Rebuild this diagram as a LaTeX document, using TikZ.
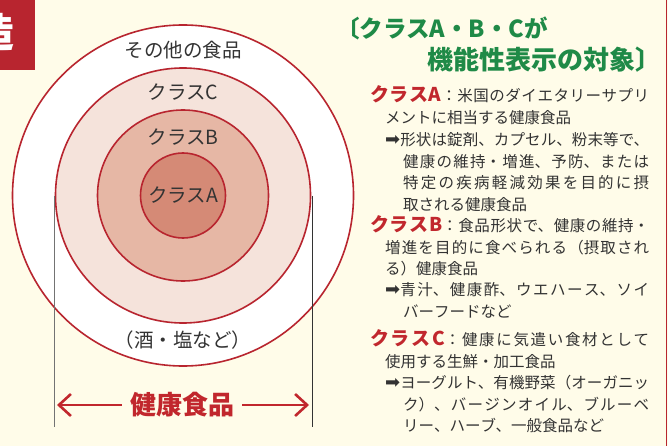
\documentclass[tikz,border=0pt]{standalone}
\usepackage{fontspec}
\newfontfamily\jp{Noto Sans CJK JP}
\newfontfamily\symfont{DejaVu Sans}
\usetikzlibrary{arrows.meta}

\definecolor{paper}{HTML}{FFFCE9}
\definecolor{ringred}{HTML}{B8252F}
\definecolor{labelred}{HTML}{C1272D}
\definecolor{ringC}{HTML}{F5E3DB}
\definecolor{ringB}{HTML}{E6B7A5}
\definecolor{ringA}{HTML}{D58A76}
\definecolor{titlegreen}{HTML}{1F8A47}
\definecolor{ink}{HTML}{333333}

% japanese line breaking: stretch between characters, break only where asked
\XeTeXlinebreaklocale "ja"
\XeTeXlinebreakskip=0pt plus 5pt
\XeTeXlinebreakpenalty=10000

\newcommand{\clslabel}[1]{{\color{labelred}\bfseries\fontsize{19}{21}\selectfont #1}}
\newcommand{\pointer}{{\symfont\fontsize{18}{15}\selectfont ➡}}

\begin{document}
\begin{tikzpicture}[x=1pt,y=-1pt,
  ring/.style={circle,draw=ringred,line width=1.6pt,inner sep=0pt},
  ringtext/.style={font=\jp\fontsize{19.5}{22}\selectfont,text=ink,inner sep=0pt},
  titletext/.style={font=\jp\bfseries\fontsize{#1}{26}\selectfont,text=titlegreen,inner sep=0pt},
  para/.style={anchor=base west,inner sep=0pt,text width=#1,align=justify,text=ink,font=\jp\fontsize{15.5}{21.7}\selectfont},
  guide/.style={line width=0.8pt},
  spantext/.style={font=\jp\bfseries\fontsize{26}{28}\selectfont,text=labelred,inner xsep=8pt,inner ysep=0pt},
  spanarrow/.style={draw=labelred,line width=2.6pt,-{Straight Barb[length=12pt,width=22pt]}}]
	\useasboundingbox (0,0) rectangle (668,446);
	\fill[paper] (0,0) rectangle (668,446);
	\draw[ringred,line width=1.5pt] (666.5,0) -- (666.5,446);
	% heading tab, cut by the page edge
	\fill[ringred] (0,0) rectangle (35,70);
	\node[font=\jp\bfseries\fontsize{40}{40}\selectfont,text=white,inner sep=0pt] (tab) at (-5,32) {造};

	% rings
	\node[ring,fill=white,minimum size=341pt] (other) at (183,195.5) {};
	\node[ring,fill=ringC,minimum size=255pt] (clsC) at (183,195.5) {};
	\node[ring,fill=ringB,minimum size=171pt] (clsB) at (183,195.5) {};
	\node[ring,fill=ringA,minimum size=85pt] (clsA) at (183,195.5) {};
	\node[ringtext] (otherlbl) at (183,50) {その他の食品};
	\node[ringtext] (clsClbl) at (183,92) {クラスC};
	\node[ringtext] (clsBlbl) at (183,137) {クラスB};
	\node[ringtext] (clsAlbl) at (183,195) {クラスA};
	\node[ringtext] (otherex) at (183,340) {（酒・塩など）};

	% span of health foods
	\coordinate (guideLt) at (54,196);
	\coordinate (guideLb) at (54,427);
	\coordinate (guideRt) at (312,196);
	\coordinate (guideRb) at (312,427);
	\draw[guide,draw=black!55] (guideLt) -- (guideLb);
	\draw[guide,draw=black!80] (guideRt) -- (guideRb);
	\node[spantext] (health) at (182,405) {健康食品};
	\coordinate (spanL) at (57,405);
	\coordinate (spanR) at (309,405);
	\draw[spanarrow] (health.west) -- (spanL);
	\draw[spanarrow] (health.east) -- (spanR);

	% explanation
	\node[titletext=23.5,anchor=base west] (title1) at (336,37.5) {〔クラスA・B・Cが};
	\node[titletext=26,anchor=base east] (title2) at (662,70) {機能性表示の対象〕};
	\node[para=279pt] (textA) at (370,101.5) {\hangindent=15pt\hangafter=1\clslabel{クラスA}：米国のダイエタリーサプリ\linebreak メントに相当する健康食品\par};
	\node[para=264pt] (noteA) at (385,145.5) {\hangindent=18pt\hangafter=1\pointer 形状は錠剤、カプセル、粉末等で、\linebreak 健康の維持・増進、予防、または\linebreak 特定の疾病軽減効果を目的に摂\linebreak 取される健康食品\par};
	\node[para=279pt] (textB) at (370,231.5) {\hangindent=15pt\hangafter=1\clslabel{クラスB}：食品形状で、健康の維持・\linebreak 増進を目的に食べられる（摂取され\linebreak る）健康食品\par};
	\node[para=264pt] (noteB) at (385,295.5) {\hangindent=18pt\hangafter=1\pointer 青汁、健康酢、ウエハース、ソイ\linebreak バーフードなど\par};
	\node[para=279pt] (textC) at (370,345.5) {\hangindent=15pt\hangafter=1\clslabel{クラスC}：健康に気遣い食材として\linebreak 使用する生鮮・加工食品\par};
	\node[para=264pt] (noteC) at (385,388.5) {\hangindent=18pt\hangafter=1\pointer ヨーグルト、有機野菜（オーガニッ\linebreak ク）、バージンオイル、ブルーベ\linebreak リー、ハーブ、一般食品など\par};
\end{tikzpicture}
\end{document}
